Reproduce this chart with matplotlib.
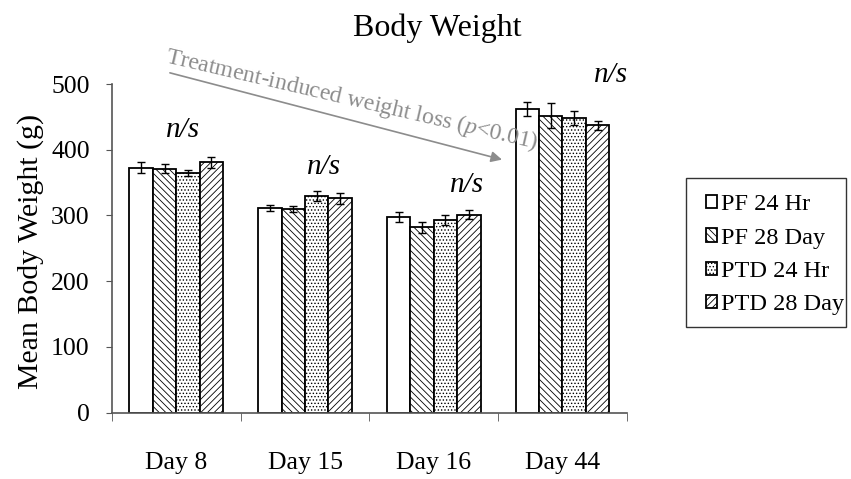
import numpy as np
import matplotlib
matplotlib.use("Agg")
import matplotlib.pyplot as plt
from matplotlib.patches import Rectangle

plt.rcParams['font.family'] = ['Liberation Serif', 'DejaVu Serif']
plt.rcParams['mathtext.fontset'] = 'custom'
plt.rcParams['mathtext.rm'] = 'Liberation Serif'
plt.rcParams['mathtext.it'] = 'Liberation Serif:italic'
plt.rcParams['hatch.linewidth'] = 0.6

# Data
days = ["Day 8", "Day 15", "Day 16", "Day 44"]
groups = ["PF 24 Hr", "PF 28 Day", "PTD 24 Hr", "PTD 28 Day"]
pf_24hr = [373, 311, 298, 462]
pf_28day = [371, 310, 282, 452]
ptd_24hr = [364, 329, 293, 448]
ptd_28day = [381, 326, 301, 437]
pf_24hr_err = [8, 4.5, 8, 10]
pf_28day_err = [7, 4.5, 8, 19]
ptd_24hr_err = [4.5, 7.5, 8, 10.5]
ptd_28day_err = [8, 8.5, 7, 7]

values = [pf_24hr, pf_28day, ptd_24hr, ptd_28day]
errors = [pf_24hr_err, pf_28day_err, ptd_24hr_err, ptd_28day_err]
hatches = ["", "\\\\\\\\\\", ".....", "/////"]

fig = plt.figure(figsize=(8.51, 4.79), dpi=100)
ax = fig.add_axes([0.1316, 0.1384, 0.605, 0.6862])

x = np.arange(len(days))
w = 0.182
for i, (vals, errs, h, lab) in enumerate(zip(values, errors, hatches, groups)):
    pos = x + (i - 1.5) * w
    ax.bar(pos, vals, w, color="white", edgecolor="black", linewidth=1.3,
           hatch=h, label=lab, zorder=2)
    ax.errorbar(pos, vals, yerr=errs, fmt="none", ecolor="black",
                elinewidth=1, capsize=3, capthick=1, zorder=3)

ax.set_xlim(-0.5, 3.5)
ax.set_ylim(0, 500)
ax.set_yticks([0, 100, 200, 300, 400, 500])
ax.set_xticks(x)
ax.set_xticklabels(days)
ax.set_xticks([-0.5, 0.5, 1.5, 2.5, 3.5], minor=True)
ax.tick_params(axis="x", which="major", length=0, pad=28, labelsize=18.5)
ax.tick_params(axis="x", which="minor", length=6, color="#555555")
ax.tick_params(axis="y", length=4, pad=12, color="#555555", labelsize=18.5)

for s in ["top", "right"]:
    ax.spines[s].set_visible(False)
for s in ["left", "bottom"]:
    ax.spines[s].set_color("#555555")
    ax.spines[s].set_linewidth(1.2)

ax.set_ylabel("Mean Body Weight (g)", fontsize=21.5)
ax.yaxis.set_label_coords(-0.132, 0.49)
fig.text(0.514, 0.942, "Body Weight", ha="center", va="center", fontsize=23)

# n/s labels
ns_x = [0.05, 1.15, 2.26, 3.38]
ns_y = [430, 374, 346, 514]
for xi, yi in zip(ns_x, ns_y):
    ax.text(xi, yi, "n/s", ha="center", va="center", fontsize=21,
            style="italic", clip_on=False)

# trend arrow and annotation
ax.annotate("", xy=(2.53, 385), xytext=(-0.05, 517),
            arrowprops=dict(arrowstyle="-|>", color="#8c8c8c", lw=1.2,
                            mutation_scale=16, shrinkA=0, shrinkB=0),
            annotation_clip=False)
ax.text(1.36, 477, "Treatment-induced weight loss ($p$<0.01)", rotation=-13.1,
        rotation_mode="anchor", ha="center", va="center", fontsize=17,
        color="#8c8c8c", clip_on=False)

# legend with a hand-placed frame
leg = fig.legend(loc="upper left", bbox_to_anchor=(0.8296, 0.594), fontsize=17.5,
                 frameon=False, handlelength=0.45, handleheight=0.45,
                 handletextpad=0.15, labelspacing=0.5, borderpad=0,
                 borderaxespad=0)
fig.patches.append(Rectangle((0.806, 0.3173), 0.188, 0.311, transform=fig.transFigure,
                             fill=False, edgecolor="#333333", linewidth=1))

fig.savefig("out.png", dpi=100)
